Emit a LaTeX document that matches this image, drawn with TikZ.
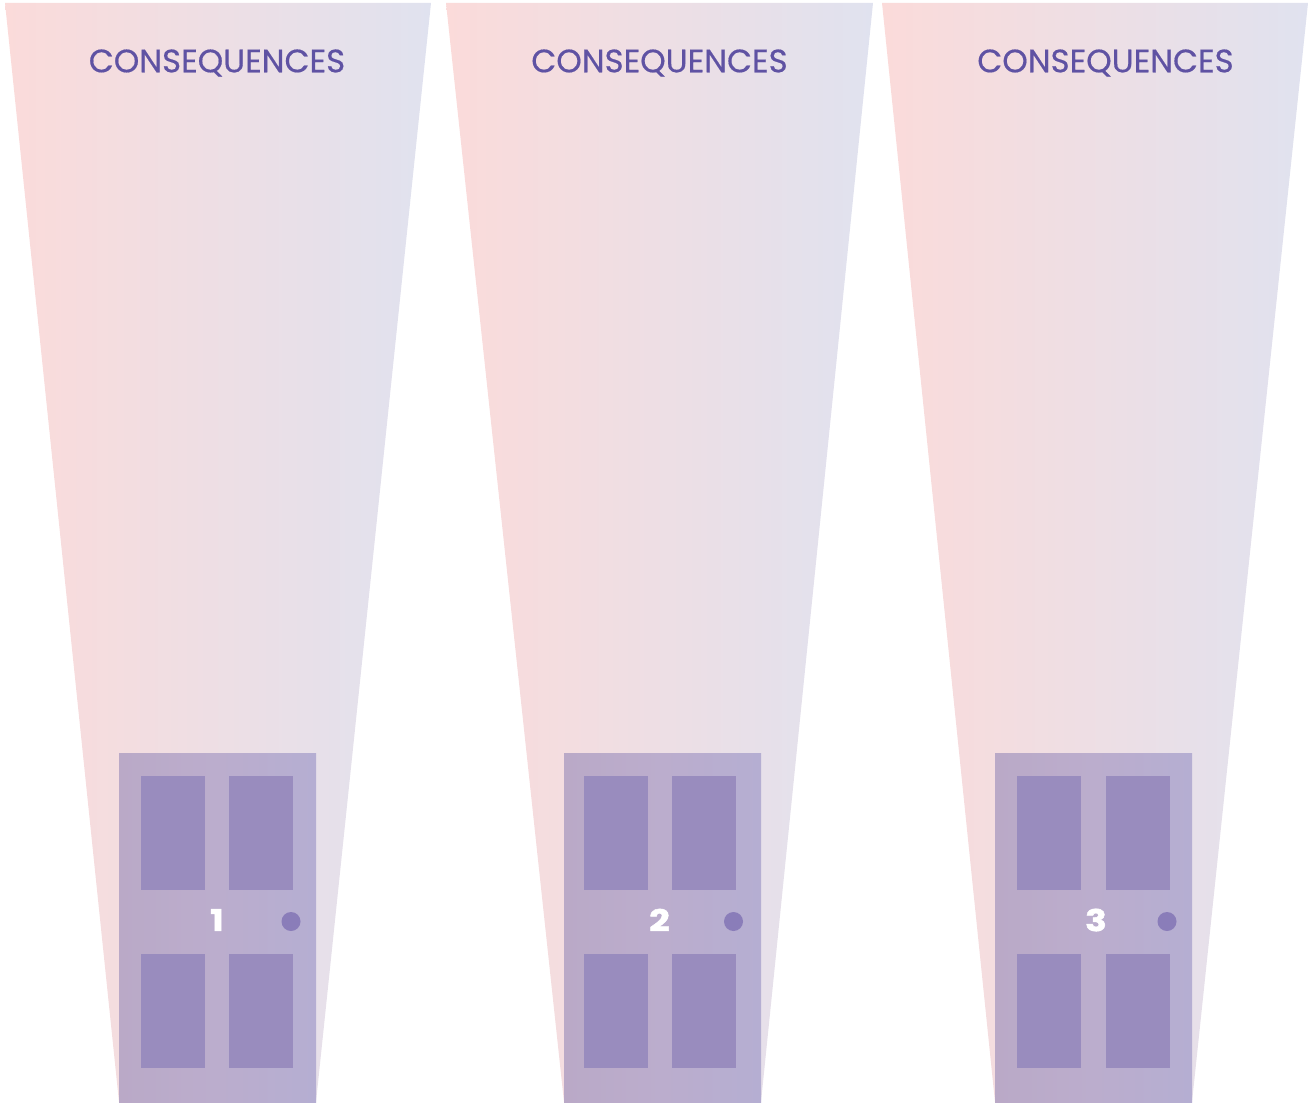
\documentclass[tikz,border=0pt]{standalone}
\usepackage{fontspec}
\setmainfont[FakeBold=0.45,BoldFeatures={FakeStretch=1.2,FakeBold=1.6}]{Poppins}
\definecolor{beamL}{HTML}{FBDBDA}
\definecolor{beamM}{HTML}{EFE1E5}
\definecolor{beamR}{HTML}{E0E2EF}
\definecolor{doorL}{HTML}{BAA9C7}
\definecolor{doorM}{HTML}{BBADCD}
\definecolor{doorR}{HTML}{B5AED2}
\definecolor{panelc}{HTML}{998CBE}
\definecolor{knobc}{HTML}{8A7DB9}
\definecolor{titlec}{HTML}{5F52A3}
\tikzset{
  x=0.75pt,y=-0.75pt,
  beam/.style={left color=beamL,middle color=beamM,right color=beamR,draw=none},
  doorbox/.style={left color=doorL,right color=doorR,middle color=doorM,draw=none},
  panel/.style={fill=panelc,draw=none},
  knob/.style={circle,fill=knobc,draw=none,minimum size=14.25pt,inner sep=0pt},
  heading/.style={text=titlec,font=\fontsize{24.3pt}{26pt}\selectfont,inner sep=0pt},
  numlabel/.style={text=white,font=\fontsize{22.5pt}{24pt}\selectfont\bfseries,inner sep=0pt}
}
\begin{document}
\begin{tikzpicture}
\useasboundingbox (0,0) rectangle (1312,1102);
% beam 1
\shade[beam] (5,3) -- (431,3) -- (316,1102) -- (119,1102) -- cycle;
\shade[doorbox] (119,753) rectangle (316,1102);
\fill[panel] (141,776) rectangle (205,890);
\fill[panel] (141,954) rectangle (205,1068);
\fill[panel] (229,776) rectangle (293,890);
\fill[panel] (229,954) rectangle (293,1068);
\node[knob] (knobA) at (291,921.5) {};
\node[numlabel] (numA) at (217,920) {1};
\node[heading] (titleA) at (217,63) {CONSEQUENCES};
% beam 2
\shade[beam] (446,3) -- (873,3) -- (761,1102) -- (564,1102) -- cycle;
\shade[doorbox] (564,753) rectangle (761,1102);
\fill[panel] (584,776) rectangle (648,890);
\fill[panel] (584,954) rectangle (648,1068);
\fill[panel] (672,776) rectangle (736,890);
\fill[panel] (672,954) rectangle (736,1068);
\node[knob] (knobB) at (733.5,921.5) {};
\node[numlabel] (numB) at (659.5,920) {2};
\node[heading] (titleB) at (659.5,63) {CONSEQUENCES};
% beam 3
\shade[beam] (882,3) -- (1308,3) -- (1192,1102) -- (995,1102) -- cycle;
\shade[doorbox] (995,753) rectangle (1192,1102);
\fill[panel] (1017,776) rectangle (1081,890);
\fill[panel] (1017,954) rectangle (1081,1068);
\fill[panel] (1106,776) rectangle (1170,890);
\fill[panel] (1106,954) rectangle (1170,1068);
\node[knob] (knobC) at (1167,921.5) {};
\node[numlabel] (numC) at (1096,920) {3};
\node[heading] (titleC) at (1105.5,63) {CONSEQUENCES};
\end{tikzpicture}
\end{document}
